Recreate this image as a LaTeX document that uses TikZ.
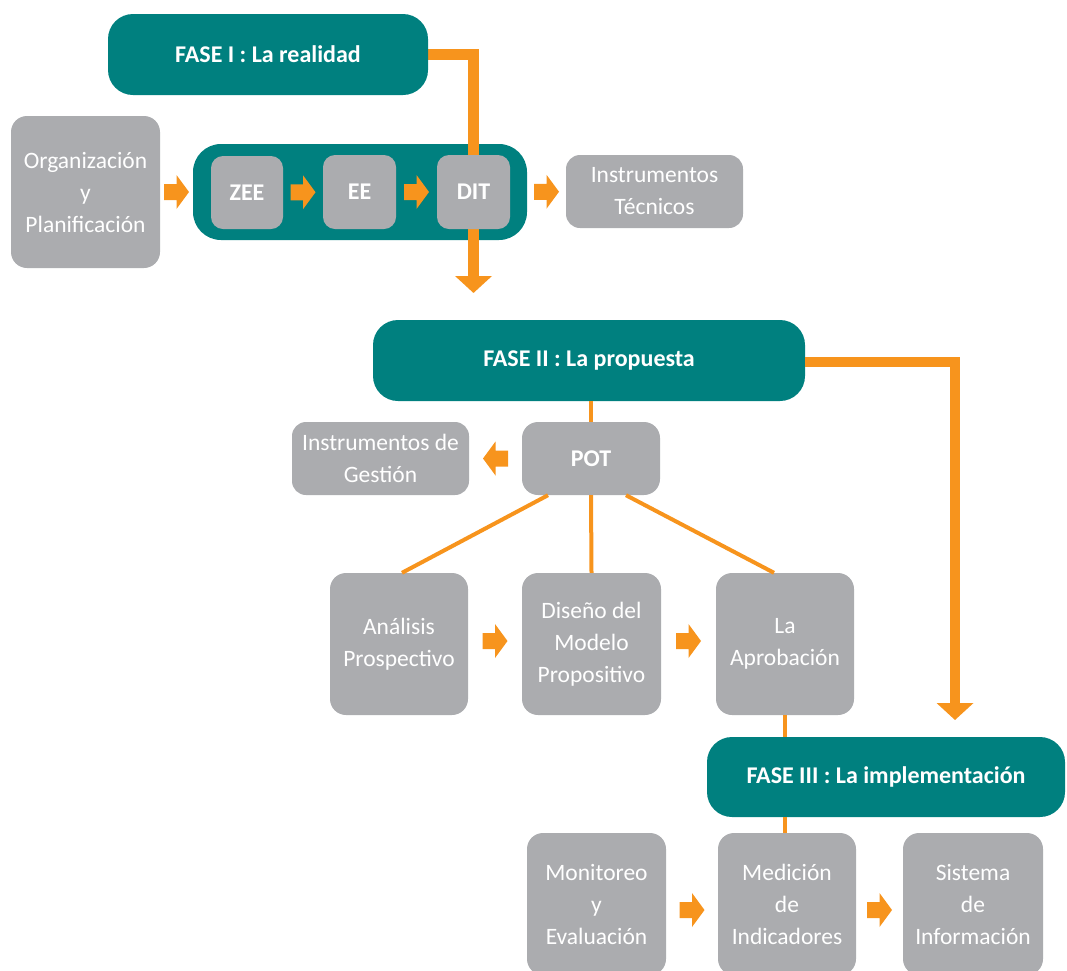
\documentclass[tikz,border=0pt]{standalone}
\usepackage{fontspec}
\setmainfont{Carlito}
\usetikzlibrary{arrows.meta,calc}
\definecolor{teal1}{RGB}{0,128,127}
\definecolor{org1}{RGB}{247,148,29}
\definecolor{gray1}{RGB}{171,172,175}
\pgfdeclarelayer{bg}
\pgfdeclarelayer{mid}
\pgfsetlayers{bg,mid,main}
\tikzset{
  phase/.style={rectangle, rounded corners=25pt, fill=teal1, text=white, font=\fontsize{24}{28}\selectfont\bfseries, inner sep=0pt},
  gbox/.style={rectangle, rounded corners=16pt, fill=gray1, text=white, align=center, font=\fontsize{23.5}{32}\selectfont, inner sep=0pt},
  sbox/.style={gbox, rounded corners=12pt, font=\fontsize{24}{28}\selectfont\bfseries},
  olink/.style={draw=org1, line width=4pt},
  obig/.style={draw=org1, line width=10.5pt, -{Triangle[width=36pt,length=17pt]}},
  barrow/.pic={\fill[org1] (-12.5,-8) -- (0,-8) -- (0,-17) -- (12.5,0) -- (0,17) -- (0,8) -- (-12.5,8) -- cycle;}
}
\begin{document}
\begin{tikzpicture}[x=1pt,y=-1pt]
\useasboundingbox (0,0) rectangle (1067,970);
\clip (0,0) rectangle (1067,970);
% Phase I
\node[phase, minimum width=320pt, minimum height=81pt] (f1) at (268,54.5) {FASE I : La realidad};
\node[gbox, minimum width=149pt, minimum height=152pt] (org) at (85.5,192) {Organización\\y\\Planificación};
\begin{pgfonlayer}{bg}
\node[rectangle, rounded corners=28pt, fill=teal1, minimum width=334pt, minimum height=96pt] (cont) at (360,192) {};
\end{pgfonlayer}
\node[sbox, minimum width=72pt, minimum height=73pt] (zee) at (247,192.5) {ZEE};
\node[sbox, minimum width=73pt, minimum height=74pt] (ee) at (359.5,192) {EE};
\node[sbox, minimum width=73pt, minimum height=74pt] (dit) at (473.5,192) {DIT};
\node[gbox, rounded corners=14pt, minimum width=177pt, minimum height=73pt] (itec) at (654.5,191.5) {Instrumentos\\Técnicos};
\begin{pgfonlayer}{mid}
\coordinate (t1) at (473.5,293);
\draw[obig] (f1.east) -| (t1);
\end{pgfonlayer}
\pic at ($(org.east)!0.5!(cont.west)$) {barrow};
\pic at ($(zee.east)!0.5!(ee.west)$) {barrow};
\pic at ($(ee.east)!0.5!(dit.west)$) {barrow};
\pic at ($(cont.east)!0.5!(itec.west)$) {barrow};
% Phase II
\node[phase, minimum width=432pt, minimum height=81pt] (f2) at (589,360.5) {FASE II : La propuesta};
\node[sbox, rounded corners=16pt, minimum width=138pt, minimum height=73pt] (pot) at (591,458.5) {POT};
\node[gbox, rounded corners=14pt, minimum width=177pt, minimum height=73pt] (igest) at (380.5,458.5) {Instrumentos de\\Gestión};
\node[gbox, minimum width=138pt, minimum height=142pt] (ana) at (399,644) {Análisis\\Prospectivo};
\node[gbox, minimum width=139pt, minimum height=142pt] (dis) at (591.5,644) {Diseño del\\Modelo\\Propositivo};
\node[gbox, minimum width=138pt, minimum height=142pt] (apr) at (785,644) {La\\Aprobación};
\coordinate (t2) at (955,720);
\draw[obig] ($(f2.east)+(0,1.5)$) -| (t2);
\draw[olink] (pot.north) -- (pot.north |- f2.south);
\draw[olink] ($(pot.south)+(-43,0)$) -- ($(ana.north)+(3,0)$);
\draw[olink] (pot.south) -- (dis.north);
\draw[olink] ($(pot.south)+(35,0)$) -- ($(apr.north)+(-11,0)$);
\pic[rotate=180] at ($(igest.east)!0.5!(pot.west)$) {barrow};
\pic at ($(ana.east)!0.5!(dis.west)+(0,-3)$) {barrow};
\pic at ($(dis.east)!0.5!(apr.west)+(0,-3)$) {barrow};
% Phase III
\node[phase, minimum width=358pt, minimum height=80pt] (f3) at (886,777) {FASE III : La implementación};
\node[gbox, minimum width=139pt, minimum height=142pt] (mon) at (596.5,904) {Monitoreo\\y\\Evaluación};
\node[gbox, minimum width=138pt, minimum height=142pt] (med) at (787,904) {Medición\\de\\Indicadores};
\node[gbox, minimum width=140pt, minimum height=142pt] (sis) at (973,904) {Sistema\\de\\Información};
\draw[olink] (apr.south) -- (apr.south |- f3.north);
\draw[olink] (apr.south |- f3.south) -- (apr.south |- med.north);
\pic at ($(mon.east)!0.5!(med.west)+(0,6)$) {barrow};
\pic at ($(med.east)!0.5!(sis.west)+(0,6)$) {barrow};
\end{tikzpicture}
\end{document}
